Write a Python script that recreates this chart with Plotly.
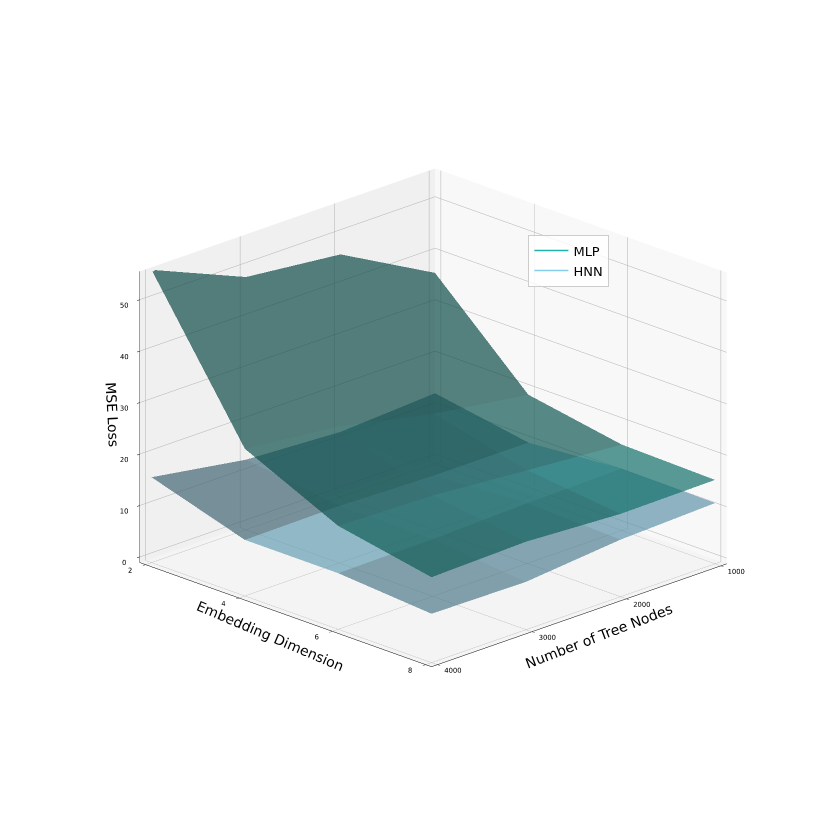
import numpy as np
import plotly.graph_objects as go

nodes = [1000, 2000, 3000, 4000]
dims = [2, 4, 6, 8]
mlp = [
    [36.0, 46.0, 48.0, 55.8],
    [18.8, 21.5, 25.5, 27.5],
    [15.6, 17.0, 18.5, 19.0],
    [15.2, 15.0, 16.0, 15.5],
]
hnn = [
    [12.6, 11.5, 12.5, 15.5],
    [9.5, 9.5, 10.0, 9.8],
    [10.9, 10.6, 10.0, 9.8],
    [10.7, 10.0, 8.2, 8.4],
]
z_ticks = [0, 10, 20, 30, 40, 50]
FONT = "DejaVu Sans"
LIGHT = np.array([-0.667, -0.667, 0.333])


def surf(z, color, name):
    """One flat-shaded mesh; each grid cell is coloured from its normal in data units."""
    nx, ny = len(nodes), len(dims)
    xs, ys, zs = [], [], []
    for r, d in enumerate(dims):
        for c, n in enumerate(nodes):
            xs.append(n)
            ys.append(d)
            zs.append(z[r][c])
    i, j, k, fc = [], [], [], []
    for r in range(ny - 1):
        for c in range(nx - 1):
            a, b, d, e = r * nx + c, r * nx + c + 1, (r + 1) * nx + c, (r + 1) * nx + c + 1
            P = [np.array([xs[q], ys[q], zs[q]], float) for q in (a, b, e, d)]
            nrm = np.cross(P[2] - P[0], P[3] - P[1])
            nrm = nrm / np.linalg.norm(nrm)
            if nrm[2] < 0:
                nrm = -nrm
            s = 0.3 + 0.7 * (float(nrm @ LIGHT) + 1) / 2
            col = "rgb(%d,%d,%d)" % tuple(round(v * s) for v in color)
            i += [a, a]
            j += [b, e]
            k += [e, d]
            fc += [col, col]
    return go.Mesh3d(x=xs, y=ys, z=zs, i=i, j=j, k=k, facecolor=fc, opacity=0.7,
                     flatshading=True, name=name, showlegend=False, hoverinfo="skip",
                     lighting=dict(ambient=1, diffuse=0, specular=0, roughness=1, fresnel=0))


def axis(tickvals, rng, bg):
    return dict(
        title=dict(text=""), tickvals=tickvals, range=rng, tickangle=0,
        tickfont=dict(family=FONT, size=9, color="black"),
        showgrid=True, gridcolor="#b0b0b0", gridwidth=1,
        showline=True, linecolor="black", linewidth=1,
        ticks="outside", ticklen=4, tickcolor="black",
        showbackground=True, backgroundcolor=bg,
        zeroline=False, showspikes=False,
    )


fig = go.Figure()
fig.add_trace(surf(hnn, (135, 206, 235), "HNN"))
fig.add_trace(surf(mlp, (32, 178, 170), "MLP"))
fig.add_trace(go.Scatter3d(x=[None], y=[None], z=[None], mode="lines", name="MLP",
                           line=dict(color="#20b2aa", width=1.5)))
fig.add_trace(go.Scatter3d(x=[None], y=[None], z=[None], mode="lines", name="HNN",
                           line=dict(color="#87ceeb", width=1.5)))

titles = [
    ("Number of Tree Nodes", 0.712, 0.243, -21),
    ("Embedding Dimension", 0.316, 0.243, 23),
    ("MSE Loss", 0.126, 0.510, 87),
]
fig.update_layout(
    width=830, height=830, margin=dict(l=0, r=0, t=0, b=0),
    paper_bgcolor="white", font=dict(family=FONT),
    scene=dict(
        xaxis=axis(nodes, [938, 4062], "#f8f8f8"),
        yaxis=axis(dims, [1.875, 8.125], "#f0f0f0"),
        zaxis=axis(z_ticks, [-1.1, 55.5], "#f4f4f4"),
        aspectmode="manual", aspectratio=dict(x=1, y=1, z=0.75),
        camera=dict(eye=dict(x=1.5085, y=1.4915, z=0.786),
                    center=dict(x=0.0175, y=-0.0175, z=-0.014),
                    projection=dict(type="orthographic")),
    ),
    legend=dict(x=0.627, y=0.727, xanchor="left", yanchor="top", itemwidth=34,
                font=dict(family=FONT, size=13, color="black"),
                bgcolor="rgba(255,255,255,0.8)", bordercolor="#cccccc", borderwidth=1),
    annotations=[
        dict(text=t, x=x, y=y, xref="paper", yref="paper", showarrow=False,
             xanchor="center", yanchor="middle",
             textangle=a, font=dict(family=FONT, size=14, color="black"))
        for t, x, y, a in titles
    ],
)
fig.write_html("out.html")
